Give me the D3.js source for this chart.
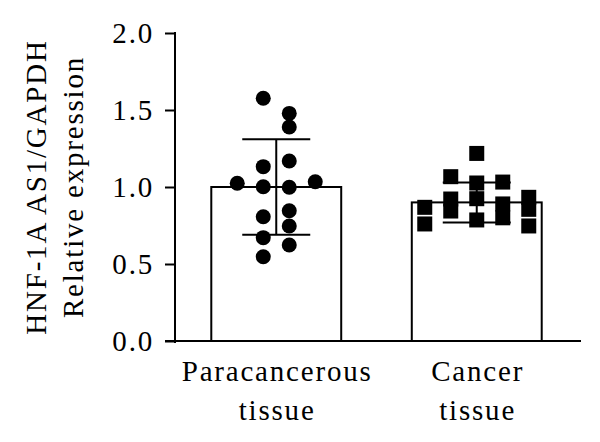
<!DOCTYPE html>
<html>
<head>
<meta charset="utf-8">
<script src="https://cdn.jsdelivr.net/npm/d3@7"></script>
<style>
  body { margin: 0; background: #fff; }
  text { font-family: "Liberation Serif", "Times New Roman", serif; }
</style>
</head>
<body>
<div id="chart"></div>
<script>
var categories = ["Paracancerous tissue", "Cancer tissue"];
var labelLines = [["Paracancerous", "tissue"], ["Cancer", "tissue"]];
var means = [1.0, 0.90];
var sds = [0.31, 0.13];

// individual samples
var paraValues = [1.576, 1.478, 1.39, 1.169, 1.132, 1.024, 1.002, 0.998, 1.034, 0.807, 0.846, 0.747, 0.671, 0.623, 0.547];
var paraCol = [-0.5, 0.5, 0.5, 0.5, -0.5, -1.5, -0.5, 0.5, 1.5, -0.5, 0.5, 0.5, -0.5, 0.5, -0.5];
var cancerValues = [1.218, 1.067, 1.026, 1.032, 0.868, 0.76, 0.922, 0.844, 0.924, 0.786, 0.89, 0.80, 0.933, 0.855, 0.747];
var cancerCol = [0, -1, 0, 1, -2, -2, -1, -1, 0, 0, 1, 1, 2, 2, 2];

var yTicks = [0, 0.5, 1.0, 1.5, 2.0];

var svgWidth = 600;
var svgHeight = 442;
var margin = { top: 33, right: 22, bottom: 101, left: 175 };
var width = svgWidth - margin.left - margin.right;
var height = svgHeight - margin.top - margin.bottom;

var fontSize = 29;
var spacing = 1.8;

var svg = d3.select("#chart")
  .append("svg")
  .attr("width", svgWidth)
  .attr("height", svgHeight);

var chartGroup = svg.append("g")
  .attr("transform", `translate(${margin.left}, ${margin.top})`);

var x = d3.scaleBand()
  .domain(categories)
  .range([0, width])
  .paddingInner(0.352)
  .paddingOuter(0.181);

var y = d3.scaleLinear()
  .domain([0, 2])
  .range([height, 0]);

var col = d3.scaleLinear().domain([0, 1]).range([0, 26]);

// bars
chartGroup.selectAll(".bar")
  .data(categories)
  .enter()
  .append("rect")
  .attr("class", "bar")
  .attr("x", d => x(d))
  .attr("y", (d, i) => y(means[i]))
  .attr("width", x.bandwidth())
  .attr("height", (d, i) => y(0) - y(means[i]))
  .attr("fill", "#fff")
  .attr("stroke", "#000")
  .attr("stroke-width", 2);

// error bars
var capHalf = 34;
var err = chartGroup.selectAll(".err")
  .data(categories)
  .enter()
  .append("g")
  .attr("class", "err")
  .attr("stroke", "#000")
  .attr("stroke-width", 2);

err.append("line")
  .attr("x1", d => x(d) + x.bandwidth() / 2)
  .attr("x2", d => x(d) + x.bandwidth() / 2)
  .attr("y1", (d, i) => y(means[i] + sds[i]))
  .attr("y2", (d, i) => y(means[i] - sds[i]));

err.append("line")
  .attr("x1", d => x(d) + x.bandwidth() / 2 - capHalf)
  .attr("x2", d => x(d) + x.bandwidth() / 2 + capHalf)
  .attr("y1", (d, i) => y(means[i] + sds[i]))
  .attr("y2", (d, i) => y(means[i] + sds[i]));

err.append("line")
  .attr("x1", d => x(d) + x.bandwidth() / 2 - capHalf)
  .attr("x2", d => x(d) + x.bandwidth() / 2 + capHalf)
  .attr("y1", (d, i) => y(means[i] - sds[i]))
  .attr("y2", (d, i) => y(means[i] - sds[i]));

// points
var c0 = x(categories[0]) + x.bandwidth() / 2;
var c1 = x(categories[1]) + x.bandwidth() / 2;

chartGroup.selectAll(".dot")
  .data(paraValues)
  .enter()
  .append("circle")
  .attr("class", "dot")
  .attr("cx", (d, i) => c0 + col(paraCol[i]))
  .attr("cy", d => y(d))
  .attr("r", 7.5)
  .attr("fill", "#000");

var sq = 15;
chartGroup.selectAll(".sq")
  .data(cancerValues)
  .enter()
  .append("rect")
  .attr("class", "sq")
  .attr("x", (d, i) => c1 + col(cancerCol[i]) - sq / 2)
  .attr("y", d => y(d) - sq / 2)
  .attr("width", sq)
  .attr("height", sq)
  .attr("fill", "#000");

// y axis
var yAxis = d3.axisLeft(y)
  .tickValues(yTicks)
  .tickFormat(d3.format(".1f"))
  .tickSize(10)
  .tickSizeOuter(0)
  .tickPadding(11);

var yG = chartGroup.append("g")
  .attr("class", "y axis")
  .call(yAxis);

yG.select(".domain").attr("stroke-width", 2).attr("d", `M0,${y(2) - 1}V${y(0) + 2}`);
yG.selectAll(".tick line").attr("stroke-width", 2);
yG.selectAll(".tick text")
  .attr("font-size", fontSize)
  .attr("letter-spacing", spacing)
  .attr("fill", "#000")
  .attr("font-family", "Liberation Serif");

// x axis
chartGroup.append("line")
  .attr("x1", -10)
  .attr("x2", width + 3)
  .attr("y1", y(0))
  .attr("y2", y(0))
  .attr("stroke", "#000")
  .attr("stroke-width", 2);

var xLabels = chartGroup.selectAll(".xlabel")
  .data(categories)
  .enter()
  .append("text")
  .attr("class", "xlabel")
  .attr("text-anchor", "middle")
  .attr("font-size", fontSize)
  .attr("letter-spacing", spacing)
  .attr("fill", "#000");

xLabels.selectAll("tspan")
  .data((d, i) => labelLines[i].map(t => ({ t: t, c: d })))
  .enter()
  .append("tspan")
  .attr("x", d => x(d.c) + x.bandwidth() / 2 + spacing / 2)
  .attr("y", (d, j) => y(0) + 40 + j * 39)
  .text(d => d.t);

// y label
var yLabel = chartGroup.append("text")
  .attr("transform", `translate(${-margin.left}, ${height / 2}) rotate(-90)`)
  .attr("text-anchor", "middle")
  .attr("font-size", fontSize)
  .attr("letter-spacing", spacing)
  .attr("fill", "#000");

yLabel.append("tspan").attr("x", 0).attr("y", 46).text("HNF-1A AS1/GAPDH");
yLabel.append("tspan").attr("x", 0).attr("y", 83).text("Relative expression");
</script>
</body>
</html>
